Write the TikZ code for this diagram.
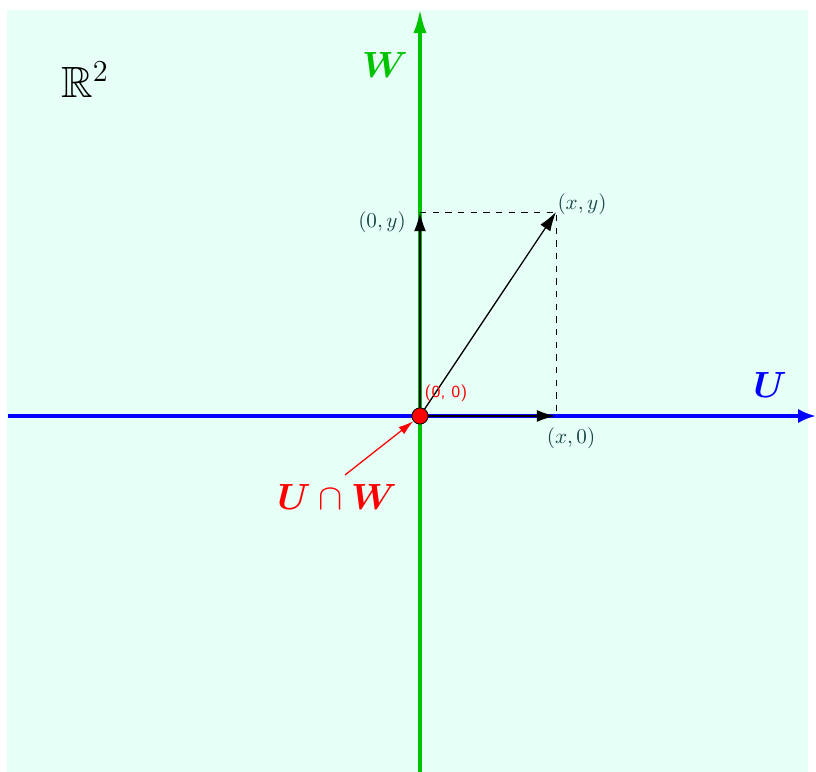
\documentclass[tikz,border=0pt]{standalone}
\usepackage{amsmath, amssymb}
\usepackage{bm}
\usepackage{xcolor}
\usepackage{tikz}
\usetikzlibrary{arrows.meta, positioning}
\definecolor{planebg}{RGB}{230,255,247}
\definecolor{axisgreen}{RGB}{0,195,0}
\definecolor{ptlabel}{RGB}{25,70,70}

\begin{document}
\begin{tikzpicture}[
  axis/.style={line width=2pt},
  vec/.style={-{Latex[length=3.2mm,width=2mm]}},
  ptlab/.style={text=ptlabel, font=\normalsize},
  biglab/.style={font=\LARGE}
]
\useasboundingbox (-7,-5.933) rectangle (6.6,6.933);
\fill[planebg] (-6.883,-5.933) rectangle (6.467,6.767);
\coordinate (O) at (0,0);
\coordinate (P) at (2.267,3.4);
\coordinate (Px) at (2.267,0);
\coordinate (Py) at (0,3.4);
\coordinate (Uw) at (-6.867,0);
\coordinate (Ue) at (6.6,0);
\coordinate (Ws) at (0,-5.933);
\coordinate (Wn) at (0,6.8);
\draw[axis, blue, -{Latex[length=3mm,width=2.4mm]}] (Uw) -- (Ue);
\draw[axis, axisgreen, -{Latex[length=4.2mm,width=2.2mm]}] (Ws) -- (Wn);
\draw[dashed] (Py) -- (P) -- (Px);
\draw[vec, line width=1.1pt] (O) -- (Py);
\draw[vec, line width=1.1pt] (O) -- (Px);
\draw[vec, line width=0.6pt] (O) -- (P);
\node[circle, fill=red, draw=black, inner sep=0pt, minimum size=2.7mm] (dot) at (O) {};
\node[biglab, text=blue] (ulab) at (5.833,0.517) {$\bm{U}$};
\node[biglab, text=axisgreen] (wlab) at (-0.583,5.85) {$\bm{W}$};
\node[font=\huge] (plane) at (-5.583,5.6) {$\mathbb{R}^2$};
\node[biglab, text=red] (cap) at (-1.383,-1.35) {$\bm{U}\cap\bm{W}$};
\coordinate (capstart) at (-1.25,-0.983);
\draw[red, line width=0.6pt, -{Latex[length=2.5mm,width=1.5mm]}] (capstart) -- (dot);
\node[text=red, font=\sffamily\footnotesize] (olab) at (0.433,0.383) {(0, 0)};
\node[ptlab] (xylab) at (2.7,3.533) {$(x,y)$};
\node[ptlab] (xlab) at (2.517,-0.367) {$(x,0)$};
\node[ptlab] (ylab) at (-0.633,3.233) {$(0,y)$};
\end{tikzpicture}
\end{document}
